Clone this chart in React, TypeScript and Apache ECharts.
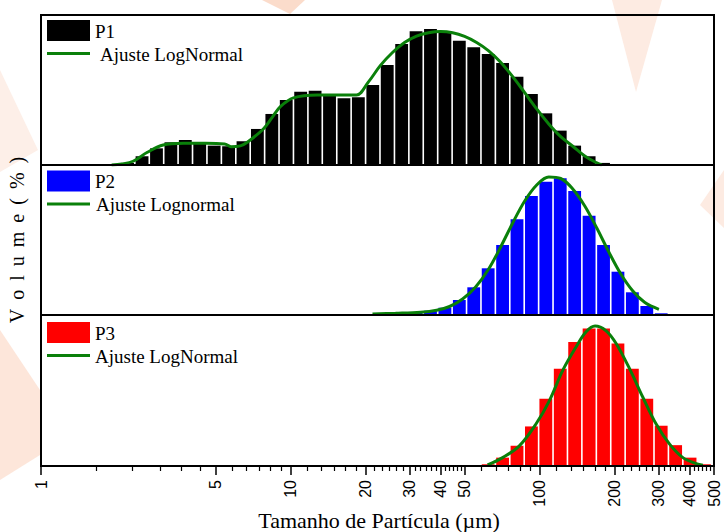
import React, { useEffect, useRef } from 'react';
import * as echarts from 'echarts';

// Size-class edges (µm), shared by the three histograms
const binEdges = [
  1.823, 2.083, 2.378, 2.718, 3.105, 3.546, 4.052, 4.629, 5.289, 6.041, 6.902,
  7.885, 9.008, 10.29, 11.76, 13.43, 15.35, 17.53, 20.03, 22.88, 26.15, 29.87,
  34.12, 38.98, 44.54, 50.88, 58.13, 66.41, 75.86, 86.67, 99.0, 113.1, 129.2,
  147.6, 168.7, 192.7, 220.1, 251.5, 287.3, 328.2, 375.0, 428.4, 489.4,
];

// Volume (%) per size class (aligned with binEdges[i]..binEdges[i+1])
const p1Volume = [
  0.02, 0.1, 0.42, 0.8, 1.09, 1.2, 1.09, 0.93, 0.9, 1.14, 1.73, 2.45, 3.12, 3.52,
  3.57, 3.36, 3.2, 3.25, 3.84, 4.8, 5.81, 6.42, 6.53, 6.37, 5.97, 5.65, 5.33, 4.9,
  4.24, 3.41, 2.48, 1.65, 0.93, 0.42, 0.1, 0.02, 0, 0, 0, 0, 0, 0,
];
const p2Volume = [
  0, 0, 0, 0, 0, 0, 0, 0, 0, 0, 0, 0, 0, 0, 0, 0, 0, 0,
  0.1, 0.17, 0.27, 0.27, 0.43, 0.73, 1.5, 2.77, 4.67, 7.0, 9.57, 11.9, 13.33,
  13.67, 12.4, 9.93, 7.0, 4.33, 2.27, 0.9, 0.17, 0, 0, 0,
];
const p3Volume = [
  0, 0, 0, 0, 0, 0, 0, 0, 0, 0, 0, 0, 0, 0, 0, 0, 0, 0, 0, 0, 0, 0, 0, 0, 0, 0,
  0.17, 0.83, 2.0, 3.93, 6.67, 9.67, 12.33, 13.67, 13.67, 12.17, 9.67, 6.67, 4.0,
  2.07, 0.83, 0.17,
];

// Log-normal fit curves
const p1FitSize = [
  1.92, 2.11, 2.34, 2.67, 3.09, 3.72, 4.56, 5.45, 5.78, 6.3, 6.72, 7.79, 8.47,
  9.12, 10.28, 12.83, 15.2, 18.41, 20.57, 22.98, 25.68, 28.7, 32.06, 35.83,
  40.04, 44.74, 49.98, 55.85, 62.41, 69.73, 77.92, 87.07, 97.27, 108.7, 121.4,
  135.7, 151.6, 169.4, 177.4,
];
const p1FitVolume = [
  0, 0.05, 0.18, 0.61, 0.96, 1.04, 1.04, 1.01, 0.88, 0.92, 1.09, 1.73, 2.3, 2.8,
  3.22, 3.36, 3.36, 3.36, 3.99, 4.78, 5.4, 5.88, 6.19, 6.35, 6.41, 6.35, 6.17,
  5.88, 5.48, 4.93, 4.24, 3.47, 2.69, 1.97, 1.36, 0.9, 0.43, 0.1, 0,
];
const p2FitSize = [
  21.35, 26.41, 33.28, 38.59, 43.51, 49.07, 55.34, 62.41, 69.73, 77.92, 87.07,
  97.27, 108.7, 121.4, 135.7, 151.6, 169.4, 189.3, 211.5, 236.3, 264.1, 300.6,
];
const p2FitVolume = [
  0.1, 0.17, 0.28, 0.48, 0.85, 1.6, 2.8, 4.6, 6.8, 9.2, 11.4, 13.0, 13.8, 13.65,
  12.6, 10.9, 8.7, 6.3, 4.1, 2.4, 1.25, 0.57,
];
const p3FitSize = [
  61.8, 71.0, 82.87, 96.6, 109.4, 123.7, 139.9, 153.5, 166.7, 184.6, 202.5, 229.2,
  259.2, 293.1, 331.8, 375.2, 424.4, 451.4,
];
const p3FitVolume = [
  0.1, 0.83, 2.0, 4.17, 6.5, 9.5, 11.83, 13.33, 13.9, 13.43, 12.17, 9.67, 6.83,
  4.17, 2.17, 0.83, 0.23, 0.07,
];

// Axis ticks (µm)
const majorTicks = [1, 5, 10, 20, 30, 40, 50, 100, 200, 300, 400, 500];
const minorTicks = [
  1.667, 2.333, 3, 3.667, 4.333, 5.833, 6.667, 7.5, 8.333, 9.167, 11.67, 13.33,
  15, 16.67, 18.33, 21.67, 23.33, 25, 26.67, 28.33, 31.67, 33.33, 35, 36.67,
  38.33, 41.67, 43.33, 45, 46.67, 48.33, 58.33, 66.67, 75, 83.33, 91.67, 116.7,
  133.3, 150, 166.7, 183.3, 216.7, 233.3, 250, 266.7, 283.3, 316.7, 333.3, 350,
  366.7, 383.3, 416.7, 433.3, 450, 466.7, 483.3,
];

const panelMax = [7.2, 15, 15];
const GREEN = '#0a800a';
const SERIF = 'Liberation Serif';
const SANS = 'Liberation Sans';

function histogram(values: number[], idx: number, color: string) {
  const data = values
    .map((v, i) => [binEdges[i], binEdges[i + 1], v])
    .filter((d) => d[2] > 0);
  return {
    type: 'custom',
    xAxisIndex: idx,
    yAxisIndex: idx,
    data,
    encode: { x: [0, 1], y: 2 },
    z: 2,
    renderItem: (params: any, api: any) => {
      const a = api.coord([api.value(0), 0]);
      const b = api.coord([api.value(1), api.value(2)]);
      return {
        type: 'rect',
        shape: { x: a[0] + 0.8, y: b[1], width: b[0] - a[0] - 1.6, height: a[1] - b[1] },
        style: { fill: color },
      };
    },
  };
}

function fit(xs: number[], ys: number[], idx: number) {
  return {
    type: 'line',
    xAxisIndex: idx,
    yAxisIndex: idx,
    data: xs.map((x, i) => [x, ys[i]]),
    smooth: 0.35,
    symbol: 'none',
    lineStyle: { color: GREEN, width: 3 },
    z: 3,
  };
}

function textStyle(text: string, size: number, family: string, extra: any = {}) {
  return { text, fontSize: size, fontFamily: family, fill: '#000', ...extra };
}

function legend(y0: number, color: string, label: string, fitLabel: string, fitX: number) {
  return [
    { type: 'rect', shape: { x: 47, y: y0, width: 43, height: 21 }, style: { fill: color } },
    { type: 'line', shape: { x1: 47, y1: y0 + 33.5, x2: 90, y2: y0 + 33.5 }, style: { stroke: GREEN, lineWidth: 3 } },
    { type: 'text', x: 95, y: y0 + 11, style: textStyle(label, 19, SERIF, { verticalAlign: 'middle' }) },
    { type: 'text', x: fitX, y: y0 + 34, style: textStyle(fitLabel, 19, SERIF, { verticalAlign: 'middle' }) },
  ];
}

const watermark = [
  { points: [[612, 0], [662, 0], [636, 92]], fill: '#fdebe2' },
  { points: [[262, 0], [305, 0], [290, 14]], fill: '#fbdccb' },
  { points: [[724, 170], [700, 205], [724, 228]], fill: '#fdebe2' },
  { points: [[0, 70], [38, 150], [0, 172]], fill: '#fdefe8' },
  { points: [[0, 330], [40, 390], [40, 455], [0, 480]], fill: '#fde6da' },
];

export default function App() {
  const ref = useRef<HTMLDivElement>(null);
  useEffect(() => {
    const chart = echarts.init(ref.current!, null, { renderer: 'svg' });
    const grids = [15, 165, 315].map((top, i) => ({
      left: 41,
      right: 10,
      top,
      height: i === 2 ? 151 : 150,
      show: true,
      borderColor: '#000',
      borderWidth: 2,
      backgroundColor: 'transparent',
      z: 4,
    }));
    const hiddenX = (gridIndex: number) => ({
      type: 'log',
      logBase: 10,
      gridIndex,
      min: 1,
      max: 500,
      axisLine: { show: false },
      axisTick: { show: false },
      axisLabel: { show: false },
      splitLine: { show: false },
    });
    const option: any = {
      animation: false,
      backgroundColor: '#fff',
      grid: grids,
      xAxis: [
        hiddenX(0),
        hiddenX(1),
        {
          type: 'log',
          logBase: 10,
          gridIndex: 2,
          min: 1,
          max: 500,
          position: 'bottom',
          axisLine: { show: true, lineStyle: { color: '#000', width: 2 } },
          axisTick: { show: true, customValues: majorTicks, length: 9, lineStyle: { color: '#000', width: 1.5 } },
          axisLabel: {
            show: true,
            customValues: majorTicks,
            rotate: 90,
            margin: 14,
            color: '#000',
            fontSize: 16,
            fontFamily: SANS,
          },
          splitLine: { show: false },
        },
        {
          type: 'log',
          logBase: 10,
          gridIndex: 2,
          min: 1,
          max: 500,
          position: 'bottom',
          offset: 0,
          axisLine: { show: false },
          axisTick: { show: true, customValues: minorTicks, length: 5, lineStyle: { color: '#000', width: 1.2 } },
          axisLabel: { show: false },
          splitLine: { show: false },
        },
      ],
      yAxis: panelMax.map((max, i) => ({
        type: 'value',
        gridIndex: i,
        min: 0,
        max,
        show: false,
        splitLine: { show: false },
      })),
      series: [
        histogram(p1Volume, 0, '#000000'),
        histogram(p2Volume, 1, '#0000ff'),
        histogram(p3Volume, 2, '#ff0000'),
        fit(p1FitSize, p1FitVolume, 0),
        fit(p2FitSize, p2FitVolume, 1),
        fit(p3FitSize, p3FitVolume, 2),
      ],
      graphic: [
        ...watermark.map((w) => ({
          type: 'polygon',
          z: -10,
          silent: true,
          shape: { points: w.points },
          style: { fill: w.fill },
        })),
        ...legend(20, '#000000', 'P1', 'Ajuste LogNormal', 100),
        ...legend(170.5, '#0000ff', 'P2', 'Ajuste Lognormal', 96),
        ...legend(322, '#ff0000', 'P3', 'Ajuste LogNormal', 95),
        {
          type: 'text',
          x: 17,
          y: 240,
          rotation: Math.PI / 2,
          style: textStyle('V\u2009 o\u2009 l\u2009 u\u2009 m\u2009 e\u2009 (\u2009 %\u2009 )', 20, SERIF, {
            align: 'center',
            verticalAlign: 'middle',
          }),
        },
        {
          type: 'text',
          x: 379,
          y: 520,
          style: textStyle('Tamanho de Partícula (µm)', 22, SERIF, { align: 'center', verticalAlign: 'middle' }),
        },
      ],
    };
    chart.setOption(option);
    return () => chart.dispose();
  }, []);
  return (
    <div
      ref={ref}
      style={{ position: 'fixed', left: 0, top: 0, width: 724, height: 532, background: '#fff' }}
    />
  );
}
